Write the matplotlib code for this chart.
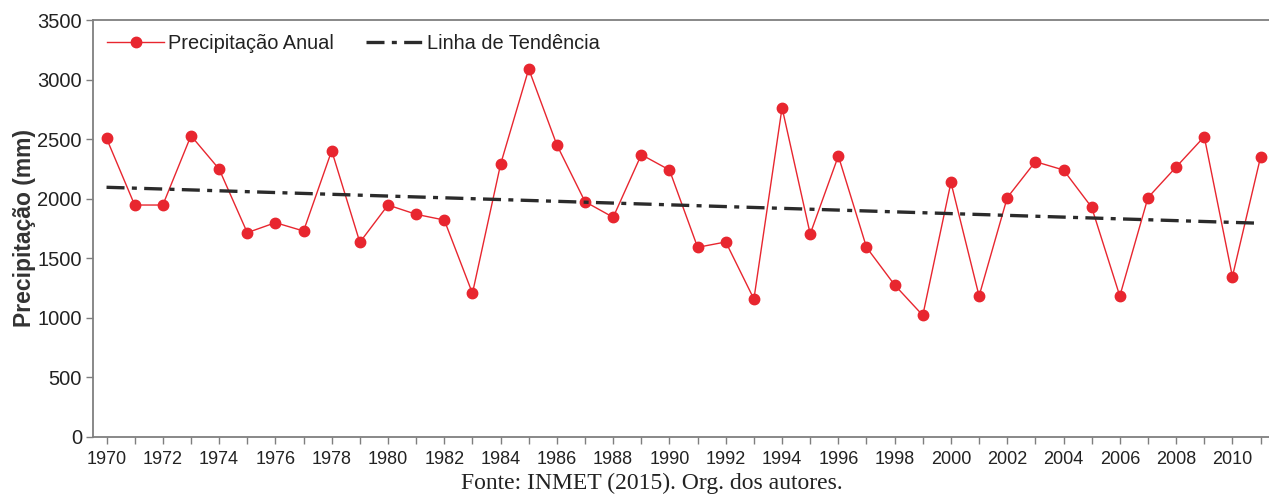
import matplotlib.pyplot as plt
from matplotlib.ticker import MultipleLocator, FixedLocator

# --- Données ---
anos = list(range(1970, 2012))
precip = [2507, 1947, 1947, 2529, 2249, 1715, 1799, 1729, 2403, 1634,
          1947, 1869, 1821, 1206, 2289, 3089, 2451, 1975, 1844, 2370,
          2241, 1592, 1637, 1158, 2764, 1704, 2359, 1592, 1276, 1021,
          2137, 1183, 2009, 2311, 2241, 1928, 1183, 2009, 2266, 2521,
          1346, 2350]
tendencia_anos = [1970, 2011]
tendencia = [2096, 1794]

plt.rcParams['font.family'] = ['Liberation Sans', 'DejaVu Sans']

fig = plt.figure(figsize=(12.69, 4.94), dpi=100)
ax = fig.add_axes([0.0733, 0.1154, 0.9267, 0.8441])

ax.plot(anos, precip, color='#e8262f', lw=1.0, marker='o', ms=7.5,
        label='Precipitação Anual')
ax.plot(tendencia_anos, tendencia, color='#2b2b2b', lw=2.4,
        dashes=(5.4, 2.2, 1.5, 2.2), label='Linha de Tendência')

ax.set_xlim(1969.52, 2011.3)
ax.set_ylim(0, 3500)
ax.yaxis.set_major_locator(MultipleLocator(500))
ax.xaxis.set_major_locator(FixedLocator(anos))
ax.set_xticklabels([str(a) if a % 2 == 0 else '' for a in anos])

for s in ['left', 'bottom', 'top']:
    ax.spines[s].set_color('#7f7f7f')
    ax.spines[s].set_linewidth(1.3)
ax.spines['right'].set_visible(False)
ax.tick_params(axis='both', colors='#7f7f7f', length=5, width=1,
               labelcolor='#222222')
ax.tick_params(axis='x', pad=5, labelsize=13)
ax.tick_params(axis='y', labelsize=14.5, pad=3)

ax.set_ylabel('Precipitação (mm)', fontsize=16.5, fontweight='bold',
              color='#333333', labelpad=1)

ax.legend(loc='upper left', ncol=2, frameon=False, fontsize=14.4,
          handlelength=2.85, handletextpad=0.2, columnspacing=1.6,
          bbox_to_anchor=(0.0, 1.0), borderaxespad=0.3, labelcolor='#222222')

fig.text(0.514, 0.022, 'Fonte: INMET (2015). Org. dos autores.',
         ha='center', va='center', fontsize=17, family='Liberation Serif',
         color='#222222')

fig.savefig('out.png', dpi=100)
